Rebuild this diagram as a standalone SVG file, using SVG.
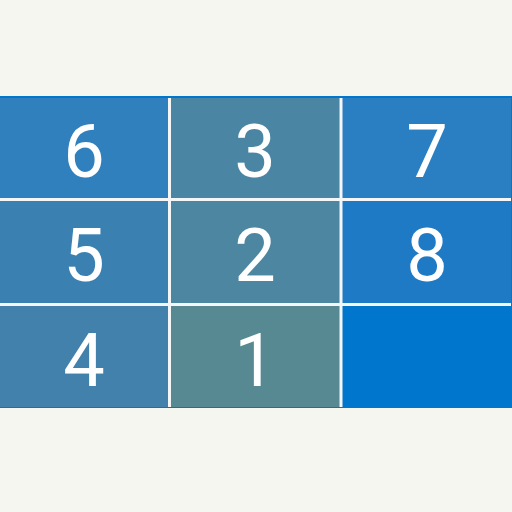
<svg xmlns="http://www.w3.org/2000/svg" width="512" height="512" viewBox="0 0 512 512">
<style>
.lbl{font-family:Roboto,"Liberation Sans",sans-serif;font-size:74px;fill:#ffffff;text-anchor:middle}
.grid{stroke:#f4f6f8;stroke-width:3}
</style>
<rect x="0" y="0" width="512" height="512" fill="#f6f6f0"/>
<rect x="0" y="96" width="512" height="312" fill="#0077cc"/>
<g id="n6"><rect x="0" y="98" width="169" height="101" fill="#2f80bd"/><text class="lbl" x="84" y="177">6</text></g>
<g id="n3"><rect x="169" y="98" width="172" height="101" fill="#4a86a3"/><text class="lbl" x="255" y="177">3</text></g>
<g id="n7"><rect x="341" y="98" width="170" height="101" fill="#2a7ec2"/><text class="lbl" x="427" y="177">7</text></g>
<g id="n5"><rect x="0" y="199" width="169" height="105" fill="#3a81b2"/><text class="lbl" x="84" y="281">5</text></g>
<g id="n2"><rect x="169" y="199" width="172" height="105" fill="#4c86a0"/><text class="lbl" x="255" y="281">2</text></g>
<g id="n8"><rect x="341" y="199" width="170" height="105" fill="#1f7ac5"/><text class="lbl" x="427" y="281">8</text></g>
<g id="n4"><rect x="0" y="304" width="169" height="103" fill="#4181ab"/><text class="lbl" x="84" y="386">4</text></g>
<g id="n1"><rect x="169" y="304" width="172" height="103" fill="#578992"/><text class="lbl" x="255" y="386">1</text></g>
<g id="connectors">
<line class="grid" x1="169.5" y1="98" x2="169.5" y2="407"/>
<line class="grid" x1="341" y1="98" x2="341" y2="407"/>
<line class="grid" x1="0" y1="199.5" x2="511" y2="199.5"/>
<line class="grid" x1="0" y1="304.5" x2="511" y2="304.5"/>
</g>
</svg>
